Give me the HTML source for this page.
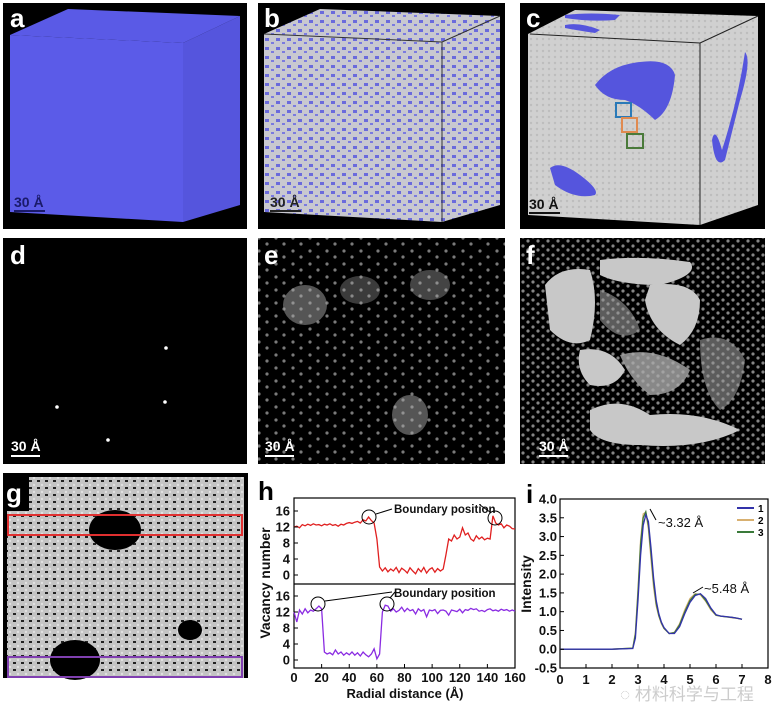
<!DOCTYPE html>
<html><head><meta charset="utf-8">
<style>
html,body{margin:0;padding:0;background:#fff;}
svg{display:block;font-family:"Liberation Sans","Noto Sans CJK SC",sans-serif;}
.lbl{font-weight:bold;fill:#fff;font-size:26px;}
.tk{font-weight:bold;font-size:13px;fill:#111;}
</style></head>
<body>
<svg width="776" height="723" viewBox="0 0 776 723" xmlns="http://www.w3.org/2000/svg">
<defs>
<pattern id="speck" width="11" height="9" patternUnits="userSpaceOnUse">
<rect width="11" height="9" fill="#c8c8d0"/>
<rect x="1" y="2" width="4" height="3" fill="#6a6adc"/>
<rect x="7" y="6" width="3" height="2" fill="#7a7ae0"/>
</pattern>
<pattern id="grey" width="6" height="6" patternUnits="userSpaceOnUse">
<rect width="6" height="6" fill="#d0d0d0"/><circle cx="3" cy="3" r="1.2" fill="#bdbdbd"/>
</pattern>
<pattern id="ggrey" width="8" height="7" patternUnits="userSpaceOnUse">
<rect width="8" height="7" fill="#c4c4c4"/><rect x="5" y="4" width="3" height="2" fill="#222"/><circle cx="2" cy="2" r="1.2" fill="#e0e0e0"/>
</pattern>
<pattern id="dots" width="17" height="13" patternUnits="userSpaceOnUse">
<circle cx="4" cy="4" r="1.6" fill="#ddd"/><circle cx="12" cy="10" r="1.6" fill="#ddd"/>
</pattern>
<pattern id="dots2" width="10" height="9" patternUnits="userSpaceOnUse">
<circle cx="3" cy="3" r="1.6" fill="#ddd"/><circle cx="8" cy="7" r="1.6" fill="#ddd"/>
</pattern>
</defs>

<!-- panel a -->
<g>
<rect x="3" y="3" width="244" height="226" fill="#000"/>
<polygon points="10,35 68,9 240,16 183,43" fill="#5a5ae6"/>
<polygon points="183,43 240,16 240,205 183,222" fill="#5555dd"/>
<polygon points="10,35 183,43 183,222 10,212" fill="#5b5be8"/>
<text x="10" y="27" class="lbl">a</text>
<text x="14" y="207" font-size="14" font-weight="bold" fill="#1a1a6a">30 Å</text>
<rect x="14" y="210" width="31" height="2" fill="#1a1a6a"/>
</g>

<!-- panel b -->
<g>
<rect x="258" y="3" width="247" height="226" fill="#000"/>
<polygon points="264,34 320,9 500,16 442,42" fill="url(#speck)"/>
<polygon points="442,42 500,16 500,205 442,222" fill="url(#speck)"/>
<polygon points="264,34 442,42 442,222 264,212" fill="url(#speck)"/>
<line x1="264" y1="34" x2="442" y2="42" stroke="#333"/><line x1="442" y1="42" x2="442" y2="222" stroke="#333"/><line x1="442" y1="42" x2="500" y2="16" stroke="#333"/>
<text x="264" y="27" class="lbl">b</text>
<text x="270" y="207" font-size="14" font-weight="bold" fill="#222">30 Å</text>
<rect x="270" y="210" width="31" height="2" fill="#222"/>
</g>

<!-- panel c -->
<g>
<rect x="520" y="3" width="245" height="226" fill="#000"/>
<polygon points="528,34 575,10 758,16 700,43" fill="url(#grey)"/>
<polygon points="700,43 758,16 758,205 700,225" fill="url(#grey)"/>
<polygon points="528,34 700,43 700,225 528,215" fill="url(#grey)"/>
<line x1="530" y1="34" x2="700" y2="43" stroke="#222"/><line x1="700" y1="43" x2="700" y2="225" stroke="#222"/><line x1="700" y1="43" x2="758" y2="16" stroke="#222"/>
<path d="M595,85 Q610,65 640,62 Q670,58 675,75 Q672,110 655,120 Q640,105 625,100 Q605,100 595,85Z" fill="#5555dd"/>
<path d="M550,168 Q560,160 580,175 Q600,190 595,195 Q575,200 555,185Z" fill="#5555dd"/>
<path d="M745,52 Q752,60 740,100 Q730,140 725,160 Q715,170 712,140 Q715,125 722,150 Q738,100 745,52Z" fill="#5555dd"/>
<path d="M565,15 Q590,12 620,15 L615,20 Q590,22 565,18Z" fill="#5555dd"/>
<path d="M565,25 Q580,22 600,30 L595,33 Q575,30 565,28Z" fill="#5555dd"/>
<rect x="616" y="103" width="15" height="14" fill="none" stroke="#2a7ab8" stroke-width="2"/>
<rect x="622" y="118" width="15" height="14" fill="none" stroke="#e08a50" stroke-width="2"/>
<rect x="627" y="134" width="16" height="14" fill="none" stroke="#4a7a3a" stroke-width="2"/>
<text x="526" y="27" class="lbl">c</text>
<text x="529" y="209" font-size="14" font-weight="bold" fill="#111">30 Å</text>
<rect x="529" y="212" width="31" height="2" fill="#111"/>
</g>

<!-- panel d -->
<g>
<rect x="3" y="238" width="244" height="226" fill="#000"/>
<circle cx="166" cy="348" r="1.8" fill="#fff"/><circle cx="57" cy="407" r="1.8" fill="#fff"/><circle cx="165" cy="402" r="1.8" fill="#fff"/><circle cx="108" cy="440" r="1.8" fill="#fff"/>
<text x="10" y="264" class="lbl">d</text>
<text x="11" y="451" font-size="14" font-weight="bold" fill="#fff">30 Å</text>
<rect x="11" y="455" width="29" height="2" fill="#fff"/>
</g>

<!-- panel e -->
<g>
<rect x="258" y="238" width="247" height="226" fill="#000"/>
<rect x="258" y="238" width="247" height="226" fill="url(#dots)" opacity="0.55"/>
<ellipse cx="305" cy="305" rx="22" ry="20" fill="#aaa" opacity="0.5"/>
<ellipse cx="430" cy="285" rx="20" ry="15" fill="#aaa" opacity="0.4"/>
<ellipse cx="410" cy="415" rx="18" ry="20" fill="#aaa" opacity="0.5"/>
<ellipse cx="360" cy="290" rx="20" ry="14" fill="#aaa" opacity="0.35"/>
<text x="264" y="264" class="lbl">e</text>
<text x="265" y="451" font-size="14" font-weight="bold" fill="#fff">30 Å</text>
<rect x="265" y="455" width="29" height="2" fill="#fff"/>
</g>

<!-- panel f -->
<g>
<rect x="520" y="238" width="245" height="226" fill="#000"/>
<rect x="520" y="238" width="245" height="226" fill="url(#dots2)" opacity="0.6"/>
<path d="M545,285 Q560,265 590,270 Q600,300 590,340 Q570,350 550,330Z" fill="#c8c8c8"/>
<path d="M600,260 Q640,255 690,262 Q700,275 660,285 Q620,285 600,275Z" fill="#c8c8c8"/>
<path d="M650,285 Q690,280 700,300 Q700,330 680,345 Q650,330 645,300Z" fill="#c8c8c8"/>
<path d="M580,350 Q610,345 625,370 Q615,390 590,385 Q575,370 580,350Z" fill="#c8c8c8"/>
<path d="M590,410 Q620,395 650,415 Q700,410 740,430 Q700,450 640,445 Q600,445 590,430Z" fill="#c8c8c8"/>
<path d="M620,355 Q655,345 690,370 Q680,395 650,395 Q630,380 620,355Z" fill="#aaa" opacity="0.8"/>
<path d="M700,340 Q730,330 745,360 Q740,400 720,410 Q700,390 700,340Z" fill="#999" opacity="0.6"/>
<path d="M600,290 Q630,300 640,330 Q620,345 600,320Z" fill="#999" opacity="0.6"/>
<text x="526" y="264" class="lbl">f</text>
<text x="539" y="451" font-size="14" font-weight="bold" fill="#fff">30 Å</text>
<rect x="539" y="455" width="29" height="2" fill="#fff"/>
</g>

<!-- panel g -->
<g>
<rect x="3" y="473" width="245" height="205" fill="#000"/>
<rect x="7" y="477" width="237" height="201" fill="url(#ggrey)"/>
<ellipse cx="115" cy="530" rx="26" ry="20" fill="#000"/>
<ellipse cx="75" cy="660" rx="25" ry="20" fill="#000"/>
<ellipse cx="190" cy="630" rx="12" ry="10" fill="#000"/>
<rect x="3" y="477" width="26" height="34" fill="#000"/>
<text x="6" y="502" class="lbl">g</text>
<rect x="8" y="515" width="234" height="20" fill="none" stroke="#e03030" stroke-width="2"/>
<rect x="8" y="657" width="234" height="20" fill="none" stroke="#8040b0" stroke-width="2"/>
</g>

<!-- panel h -->
<g id="chartH">
<text x="258" y="500" font-size="26" font-weight="bold" fill="#000">h</text>
<rect x="294" y="498" width="221" height="170" fill="none" stroke="#000" stroke-width="1.2"/>
<line x1="294" y1="584" x2="515" y2="584" stroke="#000" stroke-width="1.2"/>
<text transform="translate(270,583) rotate(-90)" text-anchor="middle" font-size="14" font-weight="bold" fill="#111">Vacancy number</text>
<text x="405" y="698" text-anchor="middle" font-size="13" font-weight="bold" fill="#111">Radial distance (Å)</text>
<g id="hMarks"></g>
<text x="394" y="513" font-size="11.5" font-weight="bold" fill="#111">Boundary position</text>
<text x="394" y="597" font-size="11.5" font-weight="bold" fill="#111">Boundary position</text>
<circle cx="369" cy="517" r="7" fill="none" stroke="#000"/>
<circle cx="495" cy="518" r="7" fill="none" stroke="#000"/>
<circle cx="318" cy="604" r="7" fill="none" stroke="#000"/>
<circle cx="387" cy="604" r="7" fill="none" stroke="#000"/>
<line x1="376" y1="514" x2="392" y2="509" stroke="#000"/>
<line x1="490" y1="512" x2="480" y2="505" stroke="#000"/>
<line x1="325" y1="601" x2="392" y2="592" stroke="#000"/>
<line x1="390" y1="598" x2="395" y2="592" stroke="#000"/>
</g>

<!-- panel i -->
<g id="chartI">
<text x="526" y="503" font-size="26" font-weight="bold" fill="#000">i</text>
<rect x="560" y="499" width="208" height="169" fill="none" stroke="#000" stroke-width="1.2"/>
<text transform="translate(531,584) rotate(-90)" text-anchor="middle" font-size="14" font-weight="bold" fill="#111">Intensity</text>
<g id="iMarks"></g>
<text x="658" y="527" font-size="13" fill="#111">~3.32 Å</text>
<line x1="656" y1="520" x2="650" y2="509" stroke="#000"/>
<text x="704" y="593" font-size="13" fill="#111">~5.48 Å</text>
<line x1="703" y1="587" x2="693" y2="593" stroke="#000"/>
<g>
<line x1="737" y1="508" x2="754" y2="508" stroke="#3333aa" stroke-width="2"/><text x="758" y="512" font-size="10" font-weight="bold">1</text>
<line x1="737" y1="520" x2="754" y2="520" stroke="#d8b070" stroke-width="2"/><text x="758" y="524" font-size="10" font-weight="bold">2</text>
<line x1="737" y1="532" x2="754" y2="532" stroke="#3a7a3a" stroke-width="2"/><text x="758" y="536" font-size="10" font-weight="bold">3</text>
</g>
<text x="620" y="700" font-size="17" fill="#ccc">◌ 材料科学与工程</text>
</g>

<script>
// ---- chart h data ----
const hX = [0,2,4,6,8,10,12,14,16,18,20,22,24,26,28,30,32,34,36,38,40,42,44,46,48,50,52,54,56,58,60,62,64,66,68,70,72,74,76,78,80,82,84,86,88,90,92,94,96,98,100,102,104,106,108,110,112,114,116,118,120,122,124,126,128,130,132,134,136,138,140,142,144,146,148,150,152,154,156,158,160];
const hRed = [12,12.2,11.8,12.6,12.3,12.7,12.4,12.8,12.5,12.6,12.3,12.7,12.5,12.8,12.4,12.6,12.2,12.7,12.5,12.9,13.1,12.9,13.2,13.4,13,13.8,13.5,14.5,13.6,13,9,2,1,1.8,0.8,1.5,1,1.9,0.6,1.7,1.2,0.5,1.8,1,0.3,1.6,0.8,1.9,0.5,1.4,1.8,0.7,1.6,1,1.5,5,9,8.5,10,9,9.5,11.8,10,10.5,9,8.5,9.8,9,9.5,8.8,9.2,9,14.8,13,12.5,12.8,11.8,12.5,12.2,11.6,11.5];
const hPurple = [12,9.5,12.5,11.5,12.8,11.8,12.5,12.2,12.8,13.5,12.8,2,1.5,1.8,1.3,2.5,1.5,2,1.2,1.8,1.3,2,1.2,1.8,1,2,1.3,0.8,1.5,2.8,0.3,1.5,12,13.7,13.5,12.2,12.8,12,12.4,13.2,12.1,12.9,12.3,12.6,11.5,12.8,12.2,12.6,10.8,12.5,12.3,12.6,11.6,12.4,12.5,12.2,11.2,12.5,12.3,12.1,12.7,11.8,12.6,12.4,12.9,12.6,12.8,12.2,12.4,12.1,12.6,12.8,12.3,12.5,12.2,12.7,12.4,12.6,12.2,12.5,12.2];
const hXTicks = [0,20,40,60,80,100,120,140,160];
const hYTicks = [0,4,8,12,16];

// ---- chart i data ----
const iX = [0,1,2,2.8,2.9,3.0,3.1,3.2,3.3,3.4,3.5,3.6,3.7,3.8,3.9,4.0,4.2,4.4,4.6,4.8,5.0,5.2,5.4,5.6,5.8,6.0,6.2,6.4,6.6,6.8,7.0];
const iS1 = [0,0,0,0.02,0.3,1.3,2.5,3.3,3.58,3.4,2.7,1.9,1.3,0.95,0.72,0.58,0.42,0.42,0.6,0.95,1.25,1.43,1.48,1.35,1.1,0.92,0.88,0.87,0.85,0.83,0.8];
const iS2 = [0,0,0,0.03,0.45,1.6,2.9,3.6,3.65,3.2,2.4,1.65,1.15,0.88,0.68,0.55,0.42,0.45,0.68,1.05,1.35,1.48,1.45,1.28,1.05,0.9,0.88,0.86,0.84,0.82,0.8];
const iS3 = [0,0,0,0.03,0.4,1.5,2.8,3.5,3.66,3.3,2.55,1.78,1.22,0.9,0.7,0.56,0.42,0.44,0.65,1.0,1.3,1.46,1.47,1.3,1.08,0.91,0.88,0.86,0.85,0.83,0.8];
const iXTicks = [0,1,2,3,4,5,6,7,8];
const iYTicks = [-0.5,0,0.5,1,1.5,2,2.5,3,3.5,4];

const NS = "http://www.w3.org/2000/svg";
function mk(tag, attrs, parent){const e=document.createElementNS(NS,tag);for(const k in attrs)e.setAttribute(k,attrs[k]);parent.appendChild(e);return e;}

const hx = v => 294 + v/160*221;
const hyTop = v => 575 - v*4;
const hyBot = v => 660 - v*4;
const hg = document.getElementById('hMarks');
function drawLine(xs, ys, fx, fy, color, name, parent){
  const d = xs.map((x,i)=>(i?'L':'M')+fx(x).toFixed(1)+','+fy(ys[i]).toFixed(1)).join(' ');
  const p = mk('path',{d:d,fill:'none',stroke:color,'stroke-width':1.3},parent);
  
  
}
drawLine(hX,hRed,hx,hyTop,'#e02020','red-series',hg);
drawLine(hX,hPurple,hx,hyBot,'#8a2be2','purple-series',hg);
hXTicks.forEach(t=>{
  mk('line',{x1:hx(t),x2:hx(t),y1:668,y2:664,stroke:'#000'},hg);
  const tx=mk('text',{x:hx(t),y:682,'text-anchor':'middle',class:'tk'},hg);tx.textContent=t;
  
  
});
hYTicks.forEach(t=>{
  [hyTop,hyBot].forEach(f=>{
    mk('line',{x1:294,x2:298,y1:f(t),y2:f(t),stroke:'#000'},hg);
    const tx=mk('text',{x:290,y:f(t)+4.5,'text-anchor':'end',class:'tk'},hg);tx.textContent=t;
    
    
  });
});

const ix = v => 560 + v*26;
const iy = v => 499 + (4 - v)*37.56;
const ig = document.getElementById('iMarks');
drawLine(iX,iS2,ix,iy,'#d8b070','series-2',ig);
drawLine(iX,iS3,ix,iy,'#3a7a3a','series-3',ig);
drawLine(iX,iS1,ix,iy,'#3333aa','series-1',ig);
iXTicks.forEach(t=>{
  mk('line',{x1:ix(t),x2:ix(t),y1:668,y2:664,stroke:'#000'},ig);
  const tx=mk('text',{x:ix(t),y:684,'text-anchor':'middle',class:'tk','font-size':'14'},ig);tx.textContent=t;
  
  
});
iYTicks.forEach(t=>{
  mk('line',{x1:560,x2:564,y1:iy(t),y2:iy(t),stroke:'#000'},ig);
  const tx=mk('text',{x:557,y:iy(t)+4.5,'text-anchor':'end',class:'tk'},ig);tx.textContent=t.toFixed(1);
  
  
});
</script>
</svg>
</body></html>
